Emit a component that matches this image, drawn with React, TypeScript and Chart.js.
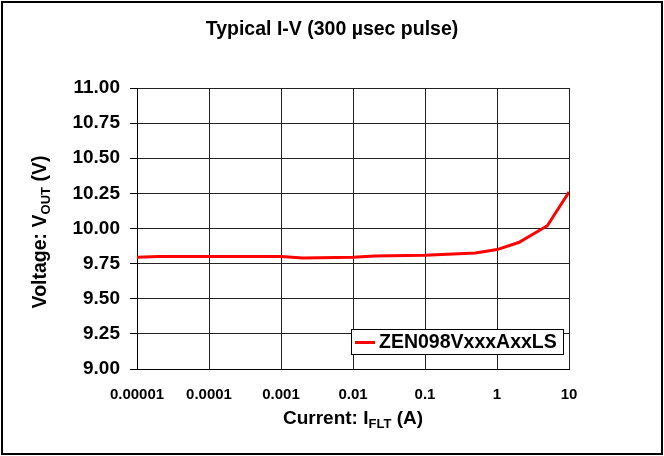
import React, { useEffect, useRef } from "react";
import { Chart, registerables } from "chart.js";

Chart.register(...registerables);

const currents = [0.00001, 0.00002, 0.0001, 0.001, 0.002, 0.01, 0.02, 0.1, 0.5, 1, 2, 5, 10];
const voltages = [9.795, 9.8, 9.8, 9.8, 9.79, 9.795, 9.805, 9.81, 9.825, 9.85, 9.9, 10.02, 10.26];
const xTickValues = [0.00001, 0.0001, 0.001, 0.01, 0.1, 1, 10];
const xTickLabels = ["0.00001", "0.0001", "0.001", "0.01", "0.1", "1", "10"];
const seriesName = "ZEN098VxxxAxxLS";
const chartTitle = "Typical I-V (300 µsec pulse)";

const FONT = "Arial, 'Liberation Sans', sans-serif";

type Part = { t: string; sub?: boolean };

function drawRich(ctx: CanvasRenderingContext2D, parts: Part[], cx: number, cy: number, size: number) {
  const subSize = Math.round(size * 0.68);
  let total = 0;
  const widths = parts.map((p) => {
    ctx.font = `bold ${p.sub ? subSize : size}px ${FONT}`;
    const w = ctx.measureText(p.t).width;
    total += w;
    return w;
  });
  let x = cx - total / 2;
  ctx.textAlign = "left";
  ctx.textBaseline = "middle";
  parts.forEach((p, i) => {
    ctx.font = `bold ${p.sub ? subSize : size}px ${FONT}`;
    ctx.fillText(p.t, x, p.sub ? cy + size * 0.3 : cy);
    x += widths[i];
  });
}

const decorPlugin = {
  id: "decor",
  afterDraw(chart: any) {
    const ctx: CanvasRenderingContext2D = chart.ctx;
    const { left, right, top, bottom } = chart.chartArea;
    ctx.save();
    ctx.fillStyle = "#000";
    // title
    ctx.font = `bold 19.5px ${FONT}`;
    ctx.textAlign = "center";
    ctx.textBaseline = "middle";
    ctx.fillText(chartTitle, 332, 30);
    // x title
    drawRich(ctx, [{ t: "Current: I" }, { t: "FLT", sub: true }, { t: " (A)" }], (left + right) / 2, 419, 19);
    // y title
    ctx.save();
    ctx.translate(41, 232);
    ctx.rotate(-Math.PI / 2);
    drawRich(ctx, [{ t: "Voltage: V" }, { t: "OUT", sub: true }, { t: " (V)" }], 0, 0, 19.5);
    ctx.restore();
    // legend
    const lx = 351, ly = 329, lw = 212, lh = 25;
    ctx.fillStyle = "#fff";
    ctx.fillRect(lx, ly, lw, lh);
    ctx.strokeStyle = "#000";
    ctx.lineWidth = 1;
    ctx.strokeRect(lx + 0.5, ly + 0.5, lw, lh);
    ctx.strokeStyle = "#ff0000";
    ctx.lineWidth = 3;
    ctx.beginPath();
    ctx.moveTo(355, ly + 13.5);
    ctx.lineTo(375, ly + 13.5);
    ctx.stroke();
    ctx.fillStyle = "#000";
    ctx.font = `bold 19.5px ${FONT}`;
    ctx.textAlign = "left";
    ctx.textBaseline = "middle";
    ctx.fillText(seriesName, 379, ly + 14);
    // outer frame
    ctx.strokeStyle = "#000";
    ctx.lineWidth = 2;
    ctx.strokeRect(2, 2, chart.width - 4, chart.height - 4);
    ctx.restore();
  },
};

export default function App() {
  const ref = useRef<HTMLCanvasElement>(null);
  useEffect(() => {
    if (!ref.current) return;
    const chart = new Chart(ref.current, {
      type: "line",
      data: {
        datasets: [
          {
            label: seriesName,
            data: currents.map((c, i) => ({ x: c, y: voltages[i] })),
            borderColor: "#ff0000",
            borderWidth: 3,
            pointRadius: 0,
            tension: 0,
            fill: false,
          },
        ],
      },
      options: {
        animation: false,
        responsive: false,
        devicePixelRatio: 1,
        layout: { padding: { top: 88, right: 95, left: 0, bottom: 0 } },
        plugins: { legend: { display: false }, tooltip: { enabled: false }, title: { display: false } },
        scales: {
          x: {
            type: "logarithmic",
            min: 0.00001,
            max: 10,
            afterBuildTicks: (scale: any) => {
              scale.ticks = xTickValues.map((v) => ({ value: v }));
            },
            afterFit: (scale: any) => {
              scale.height = 87;
            },
            ticks: {
              autoSkip: false,
              maxRotation: 0,
              padding: 17,
              color: "#000",
              font: { family: FONT, size: 15, weight: "bold" },
              callback: (v: any) => {
                const idx = xTickValues.findIndex((t) => Math.abs(Math.log10(t) - Math.log10(v)) < 1e-6);
                return idx >= 0 ? xTickLabels[idx] : "";
              },
            },
            grid: { color: "#222", lineWidth: 1, drawTicks: false },
            border: { color: "#000", width: 1 },
          },
          y: {
            min: 9,
            max: 11,
            afterFit: (scale: any) => {
              scale.width = 137;
            },
            ticks: {
              stepSize: 0.25,
              padding: 10,
              color: "#000",
              font: { family: FONT, size: 19, weight: "bold" },
              callback: (v: any) => Number(v).toFixed(2),
            },
            grid: { color: "#222", lineWidth: 1, drawTicks: true, tickLength: 7, tickColor: "#000" },
            border: { color: "#000", width: 1 },
          },
        },
      },
      plugins: [decorPlugin],
    } as any);
    return () => chart.destroy();
  }, []);
  return (
    <div style={{ position: "absolute", left: 0, top: 0, width: 664, height: 456, background: "#fff" }}>
      <canvas ref={ref} width={664} height={456} style={{ display: "block" }} />
    </div>
  );
}
